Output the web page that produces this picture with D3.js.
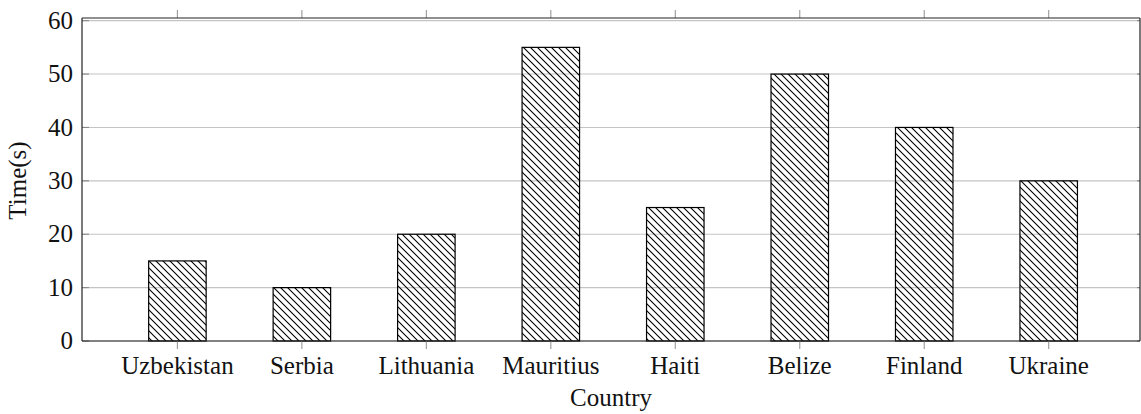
<!DOCTYPE html>
<html>
<head>
<meta charset="utf-8">
<script src="https://cdn.jsdelivr.net/npm/d3@7"></script>
<style>
  html, body { margin: 0; padding: 0; background: #fff; }
  svg { display: block; }
</style>
</head>
<body>
<svg id="chart" width="1141" height="414"></svg>
<script>
const categories = ["Uzbekistan", "Serbia", "Lithuania", "Mauritius", "Haiti", "Belize", "Finland", "Ukraine"];
const values = [15, 10, 20, 55, 25, 50, 40, 30];
const yTicks = [0, 10, 20, 30, 40, 50, 60];
const xLabel = "Country";
const yLabel = "Time(s)";

(function () {
const svg = d3.select("#chart");
const pL = 82, pR = 1140, pT = 18, pB = 341;
const fs = 25;
const FONT = "'Liberation Serif', 'Times New Roman', Tinos, 'DejaVu Serif', 'Noto Serif', serif";

const x = d3.scaleLinear().domain([-0.7665, 7.7335]).range([pL, pR]);
const y = d3.scaleLinear().domain([0, 60.5]).range([pB, pT]);
const barW = 57.5;

const defs = svg.append("defs");
const pat = defs.append("pattern")
  .attr("id", "hatch")
  .attr("patternUnits", "userSpaceOnUse")
  .attr("width", 7).attr("height", 7);
pat.append("path")
  .attr("d", "M-1,-1 L8,8 M-8,-1 L1,8 M6,-1 L15,8")
  .attr("stroke", "#000").attr("stroke-width", 1.1);

svg.append("g").selectAll("line").data(yTicks).join("line")
  .attr("x1", pL).attr("x2", pR)
  .attr("y1", d => y(d)).attr("y2", d => y(d))
  .attr("stroke", "#c4c4c4").attr("stroke-width", 1.1);

svg.append("g").selectAll("line").data(yTicks).join("line")
  .attr("x1", pL).attr("x2", pL + 7)
  .attr("y1", d => y(d)).attr("y2", d => y(d))
  .attr("stroke", "#888").attr("stroke-width", 1.1);
svg.append("g").selectAll("line").data(yTicks).join("line")
  .attr("x1", pR - 3).attr("x2", pR)
  .attr("y1", d => y(d)).attr("y2", d => y(d))
  .attr("stroke", "#888").attr("stroke-width", 1.1);

svg.append("g").selectAll("rect").data(values).join("rect")
  .attr("x", (d, i) => x(i) - barW / 2)
  .attr("y", d => y(d))
  .attr("width", barW)
  .attr("height", d => y(0) - y(d))
  .attr("fill", "url(#hatch)")
  .attr("stroke", "#000").attr("stroke-width", 1.2);

svg.append("g").selectAll("line").data(categories).join("line")
  .attr("x1", (d, i) => x(i)).attr("x2", (d, i) => x(i))
  .attr("y1", pB).attr("y2", pB + 8)
  .attr("stroke", "#999").attr("stroke-width", 1.1);
svg.append("g").selectAll("line").data(categories).join("line")
  .attr("x1", (d, i) => x(i)).attr("x2", (d, i) => x(i))
  .attr("y1", pT - 8).attr("y2", pT)
  .attr("stroke", "#999").attr("stroke-width", 1.1);

const frame = [[pL, pT, pR, pT], [pL, pB, pR, pB], [pL, pT, pL, pB], [pR, pT, pR, pB]];
svg.append("g").selectAll("line").data(frame).join("line")
  .attr("x1", d => d[0]).attr("y1", d => d[1]).attr("x2", d => d[2]).attr("y2", d => d[3])
  .attr("stroke", "#222").attr("stroke-width", 1.2);

svg.append("g").selectAll("text").data(yTicks).join("text")
  .attr("x", pL - 9).attr("y", d => y(d))
  .attr("dy", "0.33em")
  .attr("text-anchor", "end")
  .text(d => d);

svg.append("g").selectAll("text").data(categories).join("text")
  .attr("x", (d, i) => x(i))
  .attr("y", pB + 33)
  .attr("text-anchor", "middle")
  .text(d => d);

svg.append("text")
  .attr("x", (pL + pR) / 2).attr("y", 406)
  .attr("text-anchor", "middle")
  .text(xLabel);
svg.append("text")
  .attr("transform", `translate(26, ${(pT + pB) / 2 + 1}) rotate(-90)`)
  .attr("text-anchor", "middle")
  .text(yLabel);

svg.selectAll("text")
  .attr("font-family", FONT)
  .style("font-family", FONT)
  .attr("font-size", fs)
  .attr("fill", "#111");
})();
</script>
</body>
</html>
